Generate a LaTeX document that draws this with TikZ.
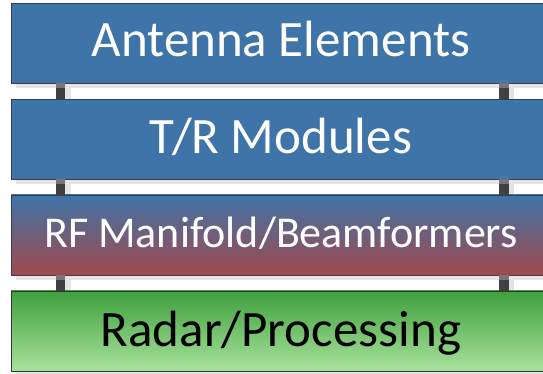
\documentclass[tikz,border=0pt]{standalone}
\usepackage{fontspec}
\setmainfont{Carlito}
\usetikzlibrary{calc}
\definecolor{boxblue}{RGB}{62,116,168}
\definecolor{boxred}{RGB}{162,72,76}
\definecolor{gtop}{RGB}{64,160,62}
\definecolor{gbot}{RGB}{168,226,156}
\definecolor{edge}{RGB}{55,62,72}
\definecolor{shad}{RGB}{228,228,228}
\definecolor{conn}{RGB}{64,64,64}
\definecolor{connlt}{RGB}{118,118,118}
\tikzset{
  layer/.style={rectangle, minimum width=540pt, minimum height=80pt, inner sep=0pt, draw=edge, line width=0.9pt},
  shadowbox/.style={fill=shad, draw=none},
  label50/.style={anchor=base, inner sep=0pt, font=\fontsize{51}{60}\selectfont},
  label40/.style={anchor=base, inner sep=0pt, font=\fontsize{44}{52}\selectfont},
}
\begin{document}
\begin{tikzpicture}[x=1pt,y=1pt]
\useasboundingbox (0,0) rectangle (543,374);
\clip (0,0) rectangle (543,374);
\fill[white] (0,0) rectangle (543,374);
% shadows
\foreach \cy in {331,235,139,43}{
  \fill[shad] (16,\cy-45) rectangle (556,\cy+35);
}
% connectors' shadow strips
\foreach \top/\bot in {291/275,195/179,99/83}{
  \fill[shad] (65,\top-5) rectangle (71,\top-16);
  \fill[shad] (509,\top-5) rectangle (514,\top-16);
}
% boxes
\node[layer, fill=boxblue] (b1) at (281,331) {};
\node[layer, fill=boxblue] (b2) at (281,235) {};
\node[layer, top color=boxblue, bottom color=boxred, draw=edge] (b3) at (281,139) {};
\node[layer, top color=gtop, bottom color=gbot, draw=black!80] (b4) at (281,43) {};
% connectors between boxes
\foreach \a/\b in {b1/b2,b2/b3,b3/b4}{
  \fill[conn] ($(\a.south west)+(45,0)$) rectangle ($(\b.north west)+(54,0)$);
  \fill[connlt] ($(\a.south west)+(45,0)$) rectangle ($(\a.south west)+(54,-5)$);
  \fill[conn] ($(\a.south west)+(488,0)$) rectangle ($(\b.north west)+(498,0)$);
  \fill[connlt] ($(\a.south west)+(488,0)$) rectangle ($(\a.south west)+(498,-5)$);
}
% texts
\node[label50, text=white] (t1) at (281,317) {Antenna Elements};
\node[label50, text=white] (t2) at (281,220) {T/R Modules};
\node[label40, text=white] (t3) at (281,126) {RF Manifold/Beamformers};
\node[label50, text=black] (t4) at (281,27) {Radar/Processing};
\end{tikzpicture}
\end{document}
